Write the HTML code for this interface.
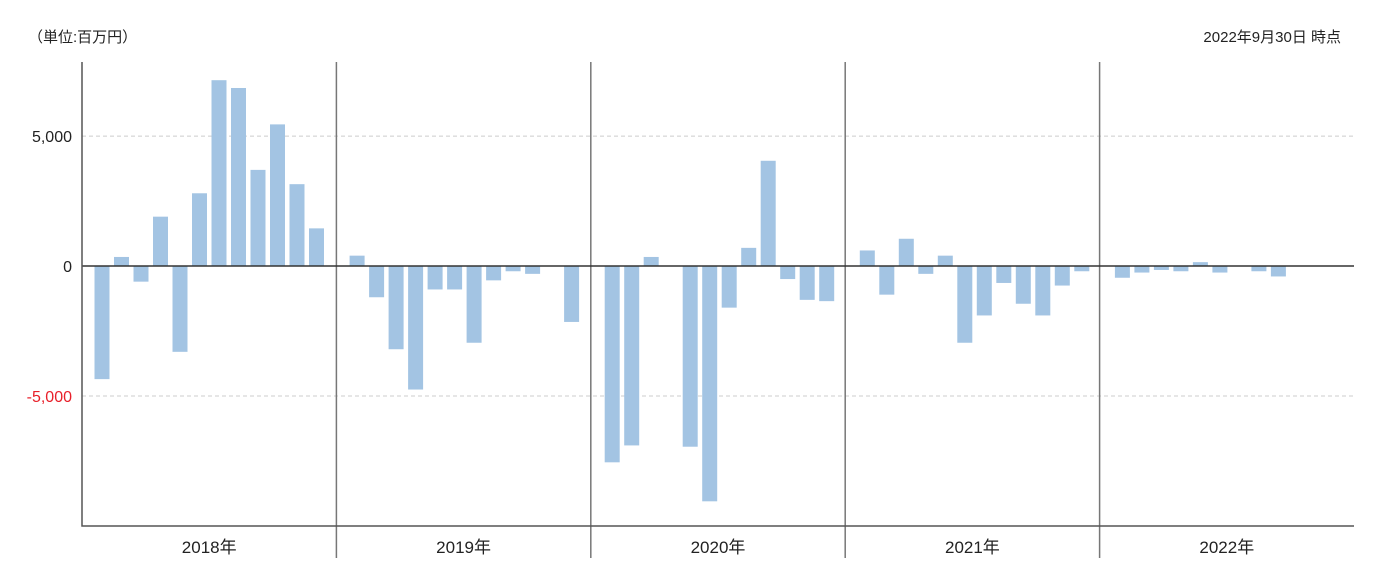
<!DOCTYPE html>
<html><head><meta charset="utf-8"><style>
body{margin:0;background:#fff;font-family:"Liberation Sans","Noto Sans CJK JP",sans-serif}
svg text{font-family:"Liberation Sans","Noto Sans CJK JP",sans-serif}
</style></head><body>
<svg id="c" width="1383" height="573">
<text x="28" y="42" font-size="15" fill="#222">（単位:百万円）</text>
<text x="1341" y="42" font-size="15" fill="#222" text-anchor="end">2022年9月30日 時点</text>
</svg>
<script>
const years=["2018年","2019年","2020年","2021年","2022年"];
const values2018=[-4350,350,-600,1900,-3300,2800,7150,6850,3700,5450,3150,1450];
const values2019=[400,-1200,-3200,-4750,-900,-900,-2950,-550,-200,-300,null,-2150];
const values2020=[-7550,-6900,350,null,-6950,-9050,-1600,700,4050,-500,-1300,-1350];
const values2021=[600,-1100,1050,-300,400,-2950,-1900,-650,-1450,-1900,-750,-200];
const values2022=[-450,-250,-150,-200,150,-250,null,-200,-400];
const tickValues=[5000,0,-5000];
const tickLabels=["5,000","0","-5,000"];
const series=[values2018,values2019,values2020,values2021,values2022];
const NS="http://www.w3.org/2000/svg",svg=document.getElementById('c');
const L=82,R=1354,T=62,B=526,yMax=7850,yMin=-10000;
const y=v=>T+(yMax-v)/(yMax-yMin)*(B-T);
const yw=(R-L)/years.length;
const x=(yi,m)=>L+yi*yw+yi*0.7+20+m*19.5;
function mk(t,a){const e=document.createElementNS(NS,t);for(const k in a)e.setAttribute(k,a[k]);svg.appendChild(e);return e;}
tickValues.forEach((v,i)=>{
 if(v!==0){const g=mk('line',{x1:L,x2:R,y1:y(v),y2:y(v),stroke:'#ccc','stroke-dasharray':'4,3'});
 
 }
 const t=mk('text',{x:72,y:y(v)+6,'font-size':16,'text-anchor':'end',fill:v<0?'#e8202a':'#222'});
 t.textContent=tickLabels[i];
 
 
});
series.forEach((arr,yi)=>{arr.forEach((v,m)=>{if(v===null)return;
 const cx=x(yi,m),y0=y(0),yv=y(v);
 const r=mk('rect',{x:cx-7.5,width:15,y:Math.min(y0,yv),height:Math.abs(yv-y0),fill:'#a3c4e3'});
 
 
});});
for(let i=1;i<years.length;i++){const xs=L+i*yw;
 const l=mk('line',{x1:xs,x2:xs,y1:T,y2:558,stroke:'#777','stroke-width':1.5});
 
 }
years.forEach((yr,i)=>{const t=mk('text',{x:L+(i+0.5)*yw,y:553,'font-size':17,'text-anchor':'middle',fill:'#222'});
 t.textContent=yr;
 
 });
const z=mk('line',{x1:L,x2:R,y1:y(0),y2:y(0),stroke:'#333','stroke-width':1.5});


const ax=mk('path',{d:`M${L},${T}V${B}H${R}`,stroke:'#555','stroke-width':1.5,fill:'none'});


</script>
</body></html>
